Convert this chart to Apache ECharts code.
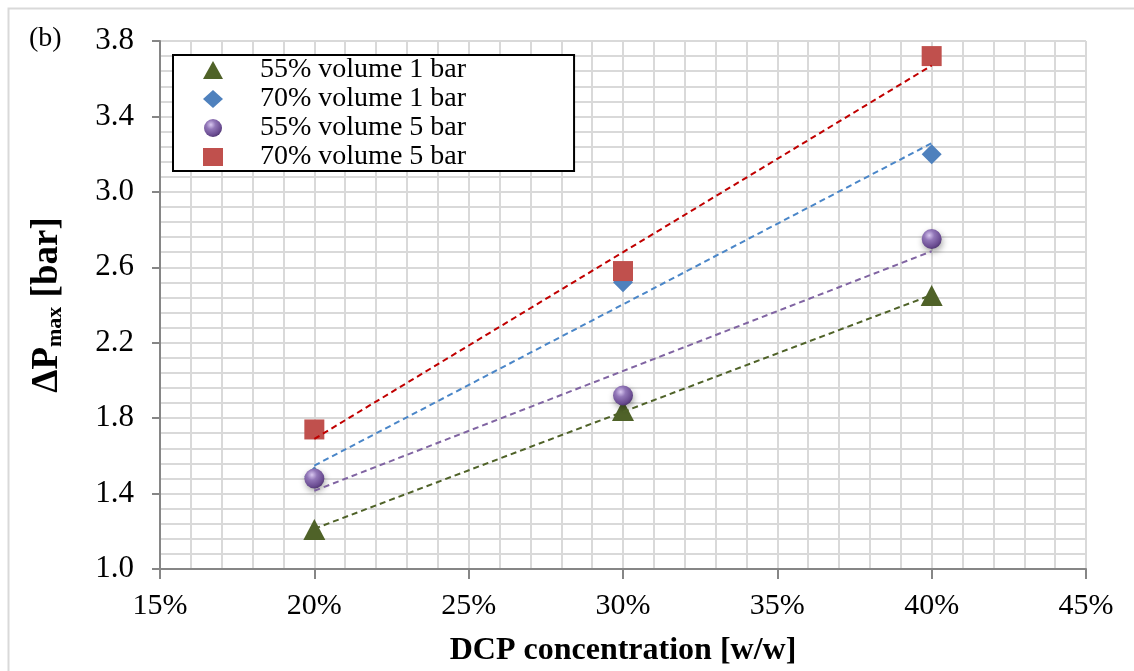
<!DOCTYPE html>
<html>
<head>
<meta charset="utf-8">
<script src="https://cdn.jsdelivr.net/npm/echarts@6/dist/echarts.min.js"></script>
<style>
  html, body { margin: 0; padding: 0; background: #ffffff; }
  #chart { width: 1134px; height: 671px; }
</style>
</head>
<body>
<div id="chart"></div>
<script>
// DCP concentration (w/w fraction) for each test
const concentration = [0.20, 0.30, 0.40];

// Maximum pressure rise ΔPmax [bar]
const vol55bar1 = [1.21, 1.84, 2.45];
const vol70bar1 = [1.49, 2.52, 3.20];
const vol55bar5 = [1.48, 1.92, 2.75];
const vol70bar5 = [1.74, 2.58, 3.72];

const seriesNames = ['55% volume 1 bar', '70% volume 1 bar', '55% volume 5 bar', '70% volume 5 bar'];

// x axis ticks (fraction) and y axis ticks
const xTicks = [0.15, 0.20, 0.25, 0.30, 0.35, 0.40, 0.45];
const yTicks = [1.0, 1.4, 1.8, 2.2, 2.6, 3.0, 3.4, 3.8];

const FONT = "'Liberation Serif', 'Times New Roman', serif";

// least-squares linear fit, evaluated at the first and last x
function trend(xs, ys) {
  const n = xs.length;
  const mx = xs.reduce((a, b) => a + b, 0) / n;
  const my = ys.reduce((a, b) => a + b, 0) / n;
  let sxy = 0, sxx = 0;
  for (let i = 0; i < n; i++) {
    sxy += (xs[i] - mx) * (ys[i] - my);
    sxx += (xs[i] - mx) * (xs[i] - mx);
  }
  const k = sxy / sxx;
  const b = my - k * mx;
  const x0 = xs[0], x1 = xs[n - 1];
  return [[x0, k * x0 + b], [x1, k * x1 + b]];
}

function pairs(ys) { return concentration.map((x, i) => [x, ys[i]]); }

const sphere = {
  type: 'radial', x: 0.38, y: 0.32, r: 0.72,
  colorStops: [
    { offset: 0, color: '#d9c8f0' },
    { offset: 0.35, color: '#9277b8' },
    { offset: 0.8, color: '#6a4c91' },
    { offset: 1, color: '#4e3570' }
  ]
};

const markerStyles = [
  { symbol: 'triangle', size: [22, 21], color: '#4F6228' },
  { symbol: 'diamond', size: [20, 20], color: '#4F81BD' },
  { symbol: 'circle', size: 20, color: sphere, shadow: true },
  { symbol: 'rect', size: 20, color: '#C0504D' }
];
const lineColors = ['#4F6228', '#4A86C8', '#8064A2', '#C00000'];
const dataSets = [vol55bar1, vol70bar1, vol55bar5, vol70bar5];

const series = [];
dataSets.forEach((ys, i) => {
  const m = markerStyles[i];
  series.push({
    name: seriesNames[i],
    type: 'scatter',
    symbol: m.symbol,
    symbolSize: m.size,
    data: pairs(ys),
    z: 3 + i,
    itemStyle: Object.assign(
      { color: m.color, opacity: 1 },
      m.shadow ? { shadowBlur: 6, shadowColor: 'rgba(0,0,0,0.35)', shadowOffsetX: 1, shadowOffsetY: 3 } : {}
    )
  });
});
dataSets.forEach((ys, i) => {
  series.push({
    name: seriesNames[i] + ' fit',
    type: 'line',
    data: trend(concentration, ys),
    showSymbol: false,
    symbol: 'none',
    silent: true,
    z: 10,
    lineStyle: { color: lineColors[i], width: 2, type: [6, 4] }
  });
});

const chart = echarts.init(document.getElementById('chart'), null, { renderer: 'canvas' });
chart.setOption({
  backgroundColor: '#ffffff',
  animation: false,
  textStyle: { fontFamily: FONT },
  title: {
    text: '(b)', left: 24, top: 20,
    textStyle: { fontFamily: FONT, fontSize: 28, fontWeight: 'normal', color: '#000' }
  },
  graphic: [{
    type: 'rect', left: 6, top: 6, z: -1,
    shape: { width: 1200, height: 800 },
    style: { fill: 'none', stroke: '#d9d9d9', lineWidth: 2 }
  }],
  grid: { left: 160, right: 48, top: 41, bottom: 102, outerBoundsMode: 'none', containLabel: false },
  legend: {
    orient: 'vertical',
    left: 173, top: 55,
    data: seriesNames.map((n, i) => ({ name: n, icon: markerStyles[i].symbol })),
    itemWidth: 20, itemHeight: 18, itemGap: 1,
    padding: [1, 108, 0, 30],
    backgroundColor: '#ffffff',
    borderColor: '#000000', borderWidth: 2, borderRadius: 0,
    textStyle: { fontFamily: FONT, fontSize: 28, color: '#000', lineHeight: 28, padding: [0, 0, 0, 32] },
    z: 20
  },
  xAxis: {
    type: 'value',
    min: xTicks[0], max: xTicks[xTicks.length - 1], interval: 0.05,
    name: 'DCP concentration [w/w]',
    nameLocation: 'middle', nameGap: 66,
    nameTextStyle: { fontFamily: FONT, fontSize: 32, fontWeight: 'bold', color: '#000' },
    axisLine: { show: true, onZero: false, lineStyle: { color: '#868686', width: 2 } },
    axisTick: { show: true, inside: false, length: 10, lineStyle: { color: '#868686', width: 2 } },
    axisLabel: {
      margin: 22, fontFamily: FONT, fontSize: 30, color: '#000',
      formatter: v => Math.round(v * 100) + '%'
    },
    splitLine: { show: true, lineStyle: { color: '#d9d9d9', width: 2 } },
    minorTick: { show: false, splitNumber: 5 },
    minorSplitLine: { show: true, lineStyle: { color: '#d9d9d9', width: 2 } }
  },
  yAxis: {
    type: 'value',
    min: yTicks[0], max: yTicks[yTicks.length - 1], interval: 0.4,
    name: 'ΔP{s|max} [bar]',
    nameLocation: 'middle', nameGap: 94, nameRotate: 90,
    nameTextStyle: {
      fontFamily: FONT, fontSize: 37, fontWeight: 'bold', color: '#000',
      rich: {
        s: { fontFamily: FONT, fontSize: 22, fontWeight: 'bold', color: '#000', verticalAlign: 'bottom', padding: [12, 0, 0, 0] }
      }
    },
    axisLine: { show: true, onZero: false, lineStyle: { color: '#868686', width: 2 } },
    axisTick: { show: true, inside: false, length: 8, lineStyle: { color: '#868686', width: 2 } },
    axisLabel: {
      margin: 26, fontFamily: FONT, fontSize: 31, color: '#000',
      formatter: v => v.toFixed(1)
    },
    splitLine: { show: true, lineStyle: { color: '#d9d9d9', width: 2 } },
    minorTick: { show: false, splitNumber: 5 },
    minorSplitLine: { show: true, lineStyle: { color: '#d9d9d9', width: 2 } }
  },
  series: series
});
</script>
</body>
</html>
